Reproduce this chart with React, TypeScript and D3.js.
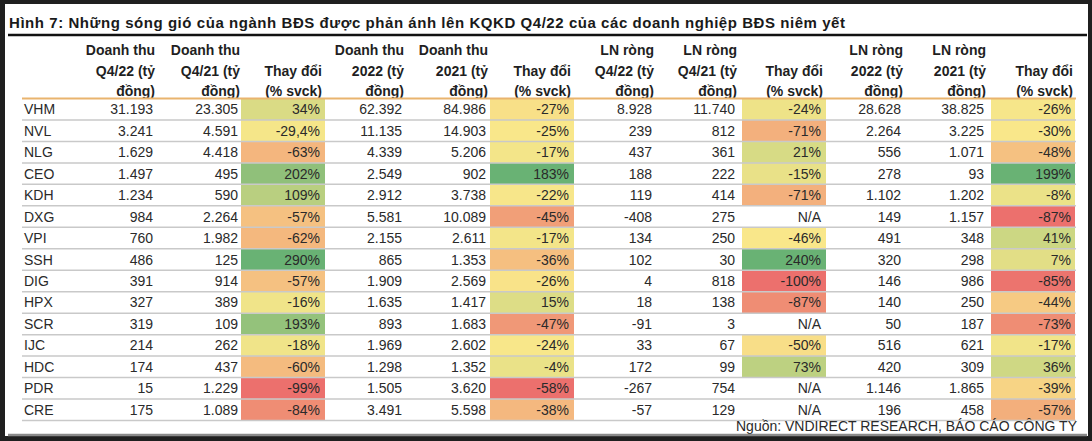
import React, { useEffect } from "react";
import * as d3 from "d3";

// ---------- data ----------
const title =
  "Hình 7: Những sóng gió của ngành BĐS được phản ánh lên KQKD Q4/22 của các doanh nghiệp BĐS niêm yết";
const source = "Nguồn: VNDIRECT RESEARCH, BÁO CÁO CÔNG TY";

const tickers = ["VHM", "NVL", "NLG", "CEO", "KDH", "DXG", "VPI", "SSH", "DIG", "HPX", "SCR", "IJC", "HDC", "PDR", "CRE"];

const revenueQ422 = [31193, 3241, 1629, 1497, 1234, 984, 760, 486, 391, 327, 319, 214, 174, 15, 175];
const revenueQ421 = [23305, 4591, 4418, 495, 590, 2264, 1982, 125, 914, 389, 109, 262, 437, 1229, 1089];
const revenueQChange = [34, -29.4, -63, 202, 109, -57, -62, 290, -57, -16, 193, -18, -60, -99, -84];
const revenue2022 = [62392, 11135, 4339, 2549, 2912, 5581, 2155, 865, 1909, 1635, 893, 1969, 1298, 1505, 3491];
const revenue2021 = [84986, 14903, 5206, 902, 3738, 10089, 2611, 1353, 2569, 1417, 1683, 2602, 1352, 3620, 5598];
const revenueYChange = [-27, -25, -17, 183, -22, -45, -17, -36, -26, 15, -47, -24, -4, -58, -38];
const profitQ422 = [8928, 239, 437, 188, 119, -408, 134, 102, 4, 18, -91, 33, 172, -267, -57];
const profitQ421 = [11740, 812, 361, 222, 414, 275, 250, 30, 818, 138, 3, 67, 99, 754, 129];
const profitQChange: (number | null)[] = [-24, -71, 21, -15, -71, null, -46, 240, -100, -87, null, -50, 73, null, null];
const profit2022 = [28628, 2264, 556, 278, 1102, 149, 491, 320, 146, 140, 50, 516, 420, 1146, 196];
const profit2021 = [38825, 3225, 1071, 93, 1202, 1157, 348, 298, 986, 250, 187, 621, 309, 1865, 458];
const profitYChange = [-26, -30, -48, 199, -8, -87, 41, 7, -85, -44, -73, -17, 36, -39, -57];

const headerRevQ422 = ["Doanh thu", "Q4/22 (tỷ", "đồng)"];
const headerRevQ421 = ["Doanh thu", "Q4/21 (tỷ", "đồng)"];
const headerRev2022 = ["Doanh thu", "2022 (tỷ", "đồng)"];
const headerRev2021 = ["Doanh thu", "2021 (tỷ", "đồng)"];
const headerProfitQ422 = ["LN ròng", "Q4/22 (tỷ", "đồng)"];
const headerProfitQ421 = ["LN ròng", "Q4/21 (tỷ", "đồng)"];
const headerProfit2022 = ["LN ròng", "2022 (tỷ", "đồng)"];
const headerProfit2021 = ["LN ròng", "2021 (tỷ", "đồng)"];
const headerChange = ["", "Thay đổi", "(% svck)"];

// ---------- layout ----------
const W = 1092;
const H = 441;
const FONT = "'Liberation Sans', Arial, sans-serif";
const tableLeft = 22;
const tableRight = 1076;
const headerLineY = [50, 71, 91];
const rowTop = 98.5;
const rowBottom = 420.5;

type Col = {
  header: string[];
  values: (number | null)[];
  right: number; // right edge of text
  heat?: [number, number]; // cell extent for colour scale
  pct?: boolean;
};

const vn = d3.formatLocale({ decimal: ",", thousands: ".", grouping: [3], currency: ["", ""], minus: "-" });
const fmtInt = vn.format(",d");
const fmtPct1 = vn.format(".1f");

const RED = "#ec706d";
const YELLOW = "#f9e78a";
const GREEN = "#69b274";

function heatScale(values: (number | null)[]) {
  const nums = values.filter((v): v is number => v != null);
  // cells typed as text in the source sheet (e.g. "-29,4%") are left out of the percentile
  const ranked = nums.filter((v) => Number.isInteger(v));
  const mid = d3.median(ranked) as number;
  return d3
    .scaleLinear<string>()
    .domain([d3.min(nums) as number, mid, d3.max(nums) as number])
    .range([RED, YELLOW, GREEN])
    .interpolate(d3.interpolateRgb)
    .clamp(true);
}

const columns: Col[] = [
  { header: headerRevQ422, values: revenueQ422, right: 153 },
  { header: headerRevQ421, values: revenueQ421, right: 238 },
  { header: headerChange, values: revenueQChange, right: 320, heat: [241, 325], pct: true },
  { header: headerRev2022, values: revenue2022, right: 402 },
  { header: headerRev2021, values: revenue2021, right: 486 },
  { header: headerChange, values: revenueYChange, right: 569, heat: [490, 574], pct: true },
  { header: headerProfitQ422, values: profitQ422, right: 652 },
  { header: headerProfitQ421, values: profitQ421, right: 735 },
  { header: headerChange, values: profitQChange, right: 821, heat: [742, 826], pct: true },
  { header: headerProfit2022, values: profit2022, right: 901 },
  { header: headerProfit2021, values: profit2021, right: 984 },
  { header: headerChange, values: profitYChange, right: 1071, heat: [991, 1075], pct: true },
];

function fmt(v: number | null, pct?: boolean) {
  if (v == null) return "N/A";
  if (!pct) return fmtInt(v);
  return (Number.isInteger(v) ? fmtInt(v) : fmtPct1(v)) + "%";
}

export default function App() {
  useEffect(() => {
    document.body.style.margin = "0";
  }, []);

  const y = d3.scaleBand<string>().domain(tickers).range([rowTop, rowBottom]);
  const bw = y.bandwidth();

  return (
    <svg width={W} height={H} style={{ display: "block", position: "absolute", left: 0, top: 0 }} fontFamily={FONT}>
      <rect x={0} y={0} width={W} height={H} fill="#1f1f1f" />
      <rect x={5} y={4} width={W - 9} height={H - 9} fill="#ffffff" />

      <text
        x={9}
        y={23}
        dy="0.35em"
        fontSize={15}
        fontWeight="bold"
        fill="#1a1a1a"
        textLength={836}
        lengthAdjust="spacing"
      >
        {title}
      </text>
      <line x1={8} x2={1087} y1={35} y2={35} stroke="#111" strokeWidth={2.5} />

      {columns.map((c, ci) =>
        c.header.map((h, li) =>
          h ? (
            <text
              key={`h${ci}-${li}`}
              x={c.right + 2}
              y={headerLineY[li]}
              dy="0.35em"
              textAnchor="end"
              fontSize={14}
              fontWeight="bold"
              fill="#1f1f1f"
            >
              {h}
            </text>
          ) : null
        )
      )}

      {/* heat-map cells */}
      {columns.map((c, ci) => {
        if (!c.heat) return null;
        const sc = heatScale(c.values);
        return c.values.map((v, ri) =>
          v == null ? null : (
            <rect
              key={`c${ci}-${ri}`}
              x={c.heat![0]}
              y={y(tickers[ri])}
              width={c.heat![1] - c.heat![0]}
              height={bw}
              fill={sc(v)}
            />
          )
        );
      })}

      {/* row separators */}
      {tickers.map((t) => (
        <line
          key={`l${t}`}
          x1={tableLeft}
          x2={tableRight}
          y1={(y(t) as number) + bw}
          y2={(y(t) as number) + bw}
          stroke="#c9c9c9"
          strokeWidth={1.5}
        />
      ))}
      <line x1={tableLeft} x2={tableRight} y1={rowTop} y2={rowTop} stroke="#e9b46e" strokeWidth={2} />

      {tickers.map((t) => (
        <text key={`t${t}`} x={24} y={(y(t) as number) + bw / 2} dy="0.36em" fontSize={14} fill="#2a2a2a">
          {t}
        </text>
      ))}

      {columns.map((c, ci) =>
        c.values.map((v, ri) => (
          <text
            key={`v${ci}-${ri}`}
            x={c.right}
            y={(y(tickers[ri]) as number) + bw / 2}
            dy="0.36em"
            textAnchor="end"
            fontSize={14}
            fill="#2a2a2a"
          >
            {fmt(v, c.pct)}
          </text>
        ))
      )}

      <text x={1077} y={426} dy="0.35em" textAnchor="end" fontSize={14} fill="#2a2a2a">
        {source}
      </text>
      <line x1={8} x2={1087} y1={435} y2={435} stroke="#8a8a8a" strokeWidth={2.5} />
    </svg>
  );
}
